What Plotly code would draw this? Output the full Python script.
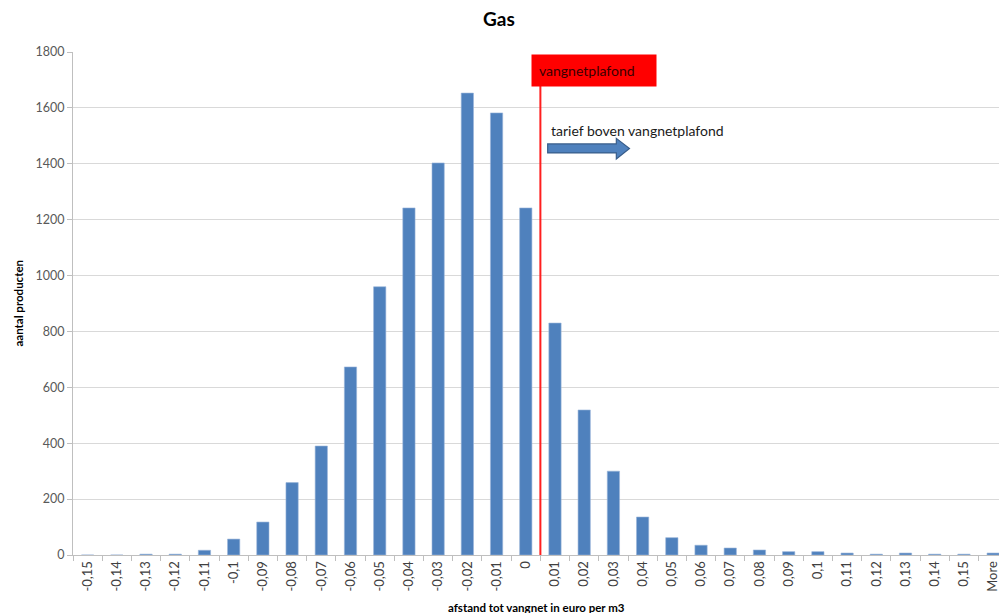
import plotly.graph_objects as go

# Histogram of distance to the safety-net tariff (euro per m3)
categories = ["-0,15", "-0,14", "-0,13", "-0,12", "-0,11", "-0,1", "-0,09", "-0,08",
              "-0,07", "-0,06", "-0,05", "-0,04", "-0,03", "-0,02", "-0,01", "0",
              "0,01", "0,02", "0,03", "0,04", "0,05", "0,06", "0,07", "0,08",
              "0,09", "0,1", "0,11", "0,12", "0,13", "0,14", "0,15", "More"]
counts = [0, 0, 3, 3, 17, 57, 118, 259, 390, 673, 960, 1242, 1403, 1653, 1582, 1242,
          830, 519, 300, 136, 62, 35, 25, 18, 12, 12, 7, 3, 7, 3, 3, 7]

ceiling_pos = 15.5          # position between "0" and "0,01"
ceiling_label = "vangnetplafond"
arrow_label = "tarief boven vangnetplafond"

FONT = "Lato"
BAR = "#4f81bd"

fig = go.Figure()
fig.add_trace(go.Bar(
    x=list(range(len(categories))), y=counts,
    marker=dict(color=BAR, line=dict(color="#9ab5da", width=0.6)),
    width=0.42, hoverinfo="x+y",
))

shapes = [
    # red safety-net line
    dict(type="line", xref="x", yref="y", x0=ceiling_pos, x1=ceiling_pos,
         y0=0, y1=1680, line=dict(color="#ff1f1f", width=2), layer="above"),
    # block arrow pointing right
    dict(type="path", xref="x", yref="y",
         path=(f"M {ceiling_pos+0.25},1439 L {ceiling_pos+2.6},1439 "
               f"L {ceiling_pos+2.6},1417 L {ceiling_pos+3.05},1455 "
               f"L {ceiling_pos+2.6},1491 L {ceiling_pos+2.6},1471 "
               f"L {ceiling_pos+0.25},1471 Z"),
         fillcolor="#4f81bd", line=dict(color="#385d8a", width=1.2), layer="above"),
]

annotations = [
    dict(text="<b>Gas</b>", xref="paper", yref="paper", x=0.46, y=1,
         yshift=20, xanchor="center", yanchor="bottom", showarrow=False,
         font=dict(family=FONT, size=19, color="#000000")),
    dict(text="<b>aantal producten</b>", xref="paper", yref="paper", x=0, y=0.5,
         xshift=-55, xanchor="center", yanchor="middle", textangle=-90,
         showarrow=False, font=dict(family=FONT, size=11.5, color="#000000")),
    dict(text="<b>afstand tot vangnet in euro per m3</b>", xref="paper", yref="paper",
         x=0.5, y=0, yshift=-44, xanchor="center", yanchor="top", showarrow=False,
         font=dict(family=FONT, size=11.5, color="#000000")),
    dict(text=ceiling_label, xref="x", yref="y", x=ceiling_pos - 0.32, y=1733,
         xanchor="left", yanchor="middle", showarrow=False,
         bgcolor="#ff0000", borderpad=7, width=110, align="left",
         font=dict(family=FONT, size=14, color="#3a0000")),
    dict(text=arrow_label, xref="x", yref="y", x=ceiling_pos + 0.3, y=1518,
         xanchor="left", yanchor="middle", showarrow=False,
         font=dict(family=FONT, size=14, color="#1a1a1a")),
]

fig.update_layout(
    width=999, height=613,
    margin=dict(l=73, r=0, t=52, b=58),
    paper_bgcolor="white", plot_bgcolor="white",
    showlegend=False, bargap=0.58,
    shapes=shapes, annotations=annotations,
    font=dict(family=FONT, color="#595959"),
)
fig.update_xaxes(
    range=[-0.5, 31.2], tickmode="array",
    tickvals=list(range(len(categories))), ticktext=categories,
    tickangle=-90, tickfont=dict(size=13, color="#404040"),
    ticklabeloverflow="allow",
    showgrid=False, showline=True, linecolor="#bfbfbf", linewidth=1,
    ticks="", zeroline=False,
)
# tick marks at the category boundaries
fig.update_layout(xaxis2=dict(
    overlaying="x", matches="x", range=[-0.5, 31.2], tickmode="array",
    tickvals=[i - 0.5 for i in range(len(categories) + 1)],
    showticklabels=False, ticks="outside", ticklen=5, tickcolor="#bfbfbf",
    showgrid=False, showline=False, zeroline=False, side="bottom",
))
fig.add_trace(go.Scatter(x=[0], y=[0], xaxis="x2", mode="markers",
                         marker=dict(opacity=0), hoverinfo="skip", showlegend=False))
fig.update_yaxes(
    range=[0, 1800], dtick=200, tickfont=dict(size=12.5, color="#595959"),
    showgrid=True, gridcolor="#d9d9d9", gridwidth=1,
    showline=True, linecolor="#bfbfbf", linewidth=1,
    ticks="outside", ticklen=5, tickcolor="#bfbfbf", zeroline=False,
)

fig.write_html("out.html")
